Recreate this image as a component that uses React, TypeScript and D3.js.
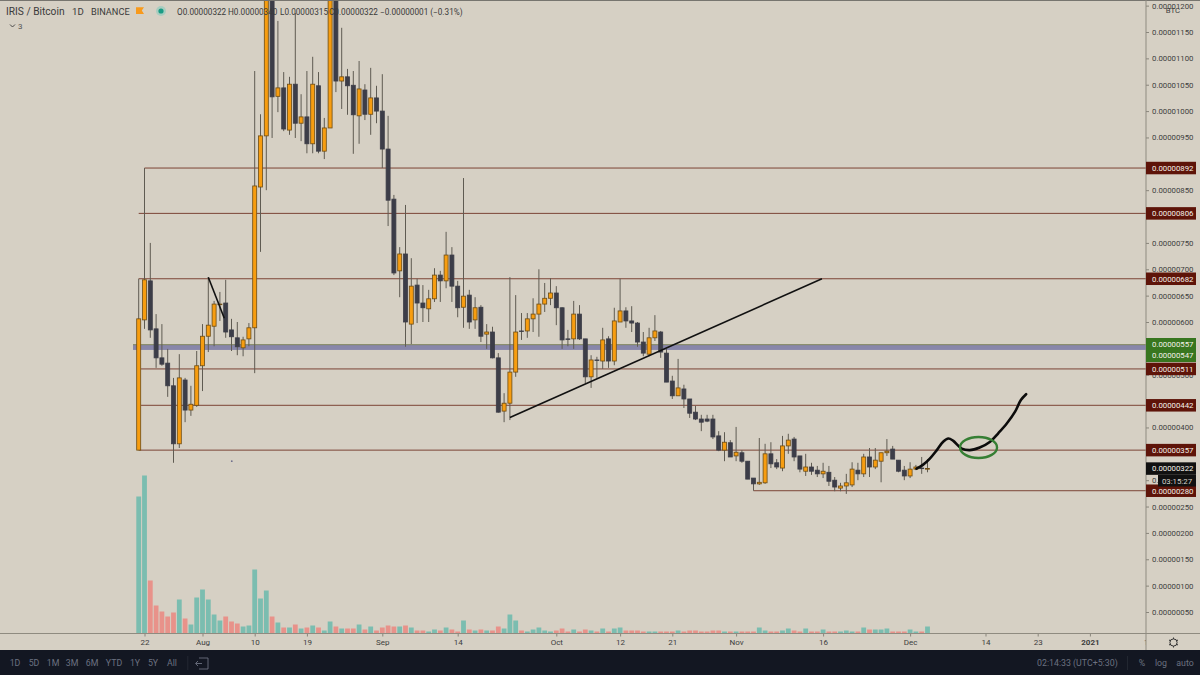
import { useEffect, useRef } from "react";
import {
  axisBottom,
  axisRight,
  curveCatmullRom,
  line,
  scaleLinear,
  scaleUtc,
  select,
  utcDay,
} from "d3";

// all prices in satoshi (1e-8 BTC)
const opens = [357,604,678,587,532,522,479,369,490,433,442,517,573,592,634,636,585,570,551,568,589,856,953,1260,1028,1044,964,1051,977,989,938,1048,924,968,1280,1057,1065,1049,991,1040,994,1025,1000,928,833,697,729,596,670,636,625,644,689,678,727,668,628,651,604,628,577,581,532,431,446,505,583,583,606,615,634,645,655,627,568,568,615,568,496,528,526,568,526,600,621,602,598,562,539,570,581,541,488,460,473,454,429,416,416,416,384,357,371,346,352,336,304,293,295,350,333,323,365,378,346,317,325,319,312,315,300,285,289,291,319,312,344,325,336,352,359,338,319,308,321,323,322];
const closes = [606,680,585,532,520,479,369,494,433,444,517,573,594,634,634,581,572,553,566,589,858,953,1260,1027,1044,966,1051,977,989,938,1051,924,968,1280,1057,1065,1048,993,1042,994,1025,1000,928,831,693,729,600,668,636,627,644,689,678,727,668,627,649,600,627,573,581,532,429,446,505,581,582,606,615,634,645,655,627,566,567,615,568,496,528,527,566,526,602,621,602,598,562,541,570,583,543,486,460,475,454,427,416,410,412,382,357,372,344,353,336,302,293,296,350,331,325,365,376,344,321,325,317,312,317,298,287,289,295,321,312,344,325,338,352,355,340,317,308,321,325,322,322];
const highs = [682,892,750,615,596,549,494,539,494,479,545,596,685,640,657,680,606,600,572,598,1076,994,1290,1300,1171,1074,1065,1186,1032,1076,1103,1074,987,1300,1300,1158,1080,1076,1095,1051,1082,1048,1070,991,841,742,822,721,682,670,661,702,697,771,742,678,873,661,647,632,596,591,541,465,685,651,617,617,645,700,674,683,668,628,585,640,632,568,537,534,589,573,627,682,628,630,600,581,589,613,583,549,498,530,481,454,441,424,424,424,393,391,376,401,357,336,304,380,369,372,340,384,388,382,346,350,333,327,333,327,306,295,312,334,333,350,361,361,352,378,365,338,327,334,329,344,340];
const lows = [357,587,570,513,517,458,333,361,410,422,439,469,543,554,602,570,545,537,535,554,503,733,850,949,998,962,955,949,943,920,920,920,909,968,1036,1004,993,919,938,983,955,977,892,782,689,647,553,558,598,600,600,638,638,664,638,609,589,587,587,562,549,531,428,410,414,496,566,570,581,572,619,632,594,549,554,549,566,484,475,494,511,513,518,600,589,581,553,535,535,564,532,486,454,460,437,418,414,393,410,378,355,336,344,336,333,302,280,291,293,323,321,317,350,336,315,308,310,306,304,289,279,279,274,287,300,306,306,321,296,346,340,315,300,304,319,312,315];
const volumes = [137,158,53,28,22,17,21,34,15,9,36,44,34,19,13,17,12,10,7,8,64,35,43,17,11,6,6,9,5,6,8,6,3,12,7,5,5,5,9,4,7,3,6,8,7,7,8,6,3,3,2,4,3,6,4,2,13,4,3,4,3,3,7,5,19,13,3,2,4,6,3,2,3,5,2,4,2,4,3,2,5,2,5,6,3,3,3,2,2,2,2,2,2,3,2,3,3,2,2,3,3,2,2,2,2,2,2,6,3,2,2,3,5,3,2,5,2,2,4,2,2,2,3,2,2,6,4,4,4,5,2,2,2,4,2,2,7];

const firstDay = new Date(Date.UTC(2020, 6, 21));

const priceTicks = [50,100,150,200,250,300,350,400,450,500,550,600,650,700,750,800,850,900,950,1000,1050,1100,1150,1200];
// these sit fully behind a price tag in the picture, so no label for them
const labelsBehindTags = [350,450,550,800];

const timeTickDates = ["2020-07-22","2020-08-01","2020-08-10","2020-08-19","2020-09-01","2020-09-14","2020-10-01","2020-10-12","2020-10-21","2020-11-01","2020-11-16","2020-12-01","2020-12-14","2020-12-23","2021-01-01","2021-01-11"];
const timeTickLabels = ["22","Aug","10","19","Sep","14","Oct","12","21","Nov","16","Dec","14","23","2021","11"];

// horizontal levels: price and first candle they start from
const levelPrices = [892,806,682,511,442,357,280];
const levelStartDays = [1,0,0,0.4,0.4,0,106];

const rangeLow = 547;
const rangeHigh = 557;

// hand drawn stuff, [day index, price]
const trendLine: [number, number][] = [[64,419],[117.8,682]];
const shortLine: [number, number][] = [[12,685],[14.76,607]];
const forecast: [number, number][] = [[134.1,322],[135.2,329],[136.4,341],[137.6,357],[138.7,373],[139.6,379],[140.4,375],[141.9,360],[143.3,357],[145,362],[146.8,373],[148.2,389],[149.7,408],[151.1,430],[152.1,452],[153,463]];
const circleCenter: [number, number] = [144.8,362];
const strayDot: [number, number] = [16.05,336];

const rangeButtons = ["1D","5D","1M","3M","6M","YTD","1Y","5Y","All"];
const rangeButtonX = [15,34,53,72,92,114,135,153,172];
const legendValues = ["O0.00000322","H0.00000340","L0.00000315","C0.00000322","−0.00000001 (−0.31%)"];
const legendX = [177,228,280,329,380];

const BG = "#d6d0c4";
const FONT = "Roboto, 'Liberation Sans', sans-serif";
const fmt = (p: number) => (p / 1e8).toFixed(8);

export default function App() {
  const svgRef = useRef<SVGSVGElement | null>(null);

  useEffect(() => {
    if (!svgRef.current) return;
    const svg = select(svgRef.current);
    svg.selectAll("*").remove();

    const plotRight = 1146;
    const plotBottom = 633.5;

    const dayOf = (i: number) => new Date(firstDay.getTime() + i * 864e5);
    const x = scaleUtc()
      .domain([firstDay, utcDay.offset(firstDay, 100)])
      .range([138.7, 718.7]);
    const y = scaleLinear().domain([50, 1150]).range([612, 32]);
    const vol = scaleLinear().domain([0, 158]).range([plotBottom, plotBottom - 158]);
    const px = (d: [number, number]) => x(dayOf(d[0]));
    const py = (d: [number, number]) => y(d[1]);

    svg.append("rect").attr("width", 1200).attr("height", 675).attr("fill", BG);
    svg.append("rect").attr("width", 1200).attr("height", 1).attr("fill", "#77756f");

    const defs = svg.append("defs");
    defs
      .append("clipPath")
      .attr("id", "plot")
      .append("rect")
      .attr("x", 0)
      .attr("y", 1)
      .attr("width", plotRight)
      .attr("height", plotBottom);
    defs
      .append("clipPath")
      .attr("id", "timeclip")
      .append("rect")
      .attr("x", 0)
      .attr("y", -1)
      .attr("width", plotRight)
      .attr("height", 20);
    const plot = svg.append("g").attr("clip-path", "url(#plot)");

    const days = opens.map((_, i) => i);
    const isUp = (i: number) => closes[i] >= opens[i];

    // volume
    plot
      .append("g")
      .selectAll("rect")
      .data(days)
      .join("rect")
      .attr("x", (i) => x(dayOf(i)) - 2.4)
      .attr("y", (i) => vol(volumes[i]))
      .attr("width", 4.8)
      .attr("height", (i) => plotBottom - vol(volumes[i]))
      .attr("fill", (i) => (isUp(i) ? "#7bbdb0" : "#e8928a"));

    // levels
    plot
      .append("rect")
      .attr("x", 133)
      .attr("y", y(rangeHigh))
      .attr("width", plotRight - 133)
      .attr("height", y(rangeLow) - y(rangeHigh))
      .attr("fill", "#8886aa");
    plot
      .append("line")
      .attr("x1", 133)
      .attr("x2", plotRight)
      .attr("y1", y(rangeHigh))
      .attr("y2", y(rangeHigh))
      .attr("stroke", "#80865f")
      .attr("stroke-width", 1);
    plot
      .append("g")
      .selectAll("line")
      .data(levelPrices)
      .join("line")
      .attr("x1", (_, i) => x(dayOf(levelStartDays[i])))
      .attr("x2", plotRight)
      .attr("y1", (p) => y(p))
      .attr("y2", (p) => y(p))
      .attr("stroke", "#7c4436")
      .attr("stroke-width", 1);

    // candles
    const candles = plot
      .append("g")
      .selectAll("g")
      .data(days)
      .join("g")
      .attr("transform", (i) => `translate(${x(dayOf(i))},0)`);
    candles
      .append("line")
      .attr("y1", (i) => y(highs[i]))
      .attr("y2", (i) => y(lows[i]))
      .attr("stroke", "#5f5b52")
      .attr("stroke-width", 1);
    candles
      .append("rect")
      .attr("x", -2)
      .attr("width", 4)
      .attr("y", (i) => y(Math.max(opens[i], closes[i])))
      .attr("height", (i) => Math.max(Math.abs(y(opens[i]) - y(closes[i])), 0.6))
      .attr("fill", (i) => (isUp(i) ? "#f79d10" : "#3c3d48"))
      .attr("stroke", (i) => (isUp(i) ? "#6d4c14" : "#3c3d48"))
      .attr("stroke-width", 0.8);

    // drawings
    const drawn = line<[number, number]>().x(px).y(py);
    plot
      .append("path")
      .attr("d", drawn(trendLine))
      .attr("fill", "none")
      .attr("stroke", "#111")
      .attr("stroke-width", 1.6);
    plot
      .append("path")
      .attr("d", drawn(shortLine))
      .attr("fill", "none")
      .attr("stroke", "#111")
      .attr("stroke-width", 1.6);
    plot
      .append("path")
      .attr("d", drawn.curve(curveCatmullRom)(forecast))
      .attr("fill", "none")
      .attr("stroke", "#0c0c0c")
      .attr("stroke-width", 2.6)
      .attr("stroke-linecap", "round");
    plot
      .append("ellipse")
      .attr("cx", px(circleCenter))
      .attr("cy", py(circleCenter))
      .attr("rx", 18.5)
      .attr("ry", 10.5)
      .attr("fill", "none")
      .attr("stroke", "#367f34")
      .attr("stroke-width", 2.4);
    plot
      .append("circle")
      .attr("cx", px(strayDot))
      .attr("cy", py(strayDot))
      .attr("r", 0.9)
      .attr("fill", "#6f6f8c");

    // time axis
    const tickDates = timeTickDates.map((d) => new Date(d + "T00:00:00Z"));
    const xAxis = svg
      .append("g")
      .attr("clip-path", "url(#timeclip)")
      .attr("transform", `translate(0,${plotBottom})`)
      .call(
        axisBottom(x)
          .tickValues(tickDates)
          .tickSize(3)
          .tickPadding(3)
          .tickFormat((_, i) => timeTickLabels[i]),
      );
    xAxis.select(".domain").remove();
    xAxis.selectAll("line").attr("stroke", "#8a867c");
    xAxis
      .selectAll("text")
      .attr("fill", "#3d3d3d")
      .attr("font-family", FONT)
      .attr("font-size", 8)
      .attr("font-weight", (_, i) => (timeTickLabels[i] === "2021" ? 700 : 400));

    svg
      .append("line")
      .attr("x1", 0)
      .attr("x2", 1200)
      .attr("y1", plotBottom)
      .attr("y2", plotBottom)
      .attr("stroke", "#8f8b80");
    svg
      .append("line")
      .attr("x1", plotRight)
      .attr("x2", plotRight)
      .attr("y1", 0)
      .attr("y2", 650)
      .attr("stroke", "#8f8b80");

    // price axis
    const yAxis = svg
      .append("g")
      .attr("transform", `translate(${plotRight},0)`)
      .call(
        axisRight(y)
          .tickValues(priceTicks)
          .tickSize(3)
          .tickPadding(3)
          .tickFormat((p) => (labelsBehindTags.includes(+p) ? "" : fmt(+p))),
      );
    yAxis.select(".domain").remove();
    yAxis.selectAll("line").attr("stroke", "#8a867c");
    yAxis
      .selectAll("text")
      .attr("fill", "#3d3d3d")
      .attr("font-family", FONT)
      .attr("font-size", 7.8);

    svg
      .append("text")
      .attr("x", 1173)
      .attr("y", 13)
      .attr("text-anchor", "middle")
      .attr("fill", "#3d3d3d")
      .attr("font-family", FONT)
      .attr("font-size", 7.8)
      .text("BTC");

    // price tags
    const tag = (price: number, fill: string, dy = 0, h = 12.5) => {
      const cy = y(price) + dy;
      svg
        .append("rect")
        .attr("x", plotRight)
        .attr("y", cy - h / 2)
        .attr("width", 50)
        .attr("height", h)
        .attr("fill", fill);
      svg
        .append("text")
        .attr("x", plotRight + 6)
        .attr("y", cy + 2.8)
        .attr("fill", "#f4f1ea")
        .attr("font-family", FONT)
        .attr("font-size", 7.8)
        .text(fmt(price));
    };
    levelPrices.forEach((p) => tag(p, "#5e1409"));
    svg
      .append("rect")
      .attr("x", plotRight)
      .attr("y", 338)
      .attr("width", 50)
      .attr("height", 24)
      .attr("fill", "#38761f");
    tag(rangeHigh, "#38761f");
    tag(rangeLow, "#38761f", 5);
    tag(closes[closes.length - 1], "#111111");
    svg
      .append("rect")
      .attr("x", 1158)
      .attr("y", 475)
      .attr("width", 38)
      .attr("height", 11.5)
      .attr("fill", "#111111");
    svg
      .append("text")
      .attr("x", 1177)
      .attr("y", 483.6)
      .attr("text-anchor", "middle")
      .attr("fill", "#d8d4cc")
      .attr("font-family", FONT)
      .attr("font-size", 7.8)
      .text("03:15:27");

    // gear
    const gear = svg.append("g").attr("transform", "translate(1173.5,642.5)");
    gear.append("circle").attr("r", 3.6).attr("fill", "none").attr("stroke", "#333").attr("stroke-width", 1);
    gear
      .selectAll("line")
      .data([0, 60, 120, 180, 240, 300])
      .join("line")
      .attr("y1", -3.6)
      .attr("y2", -5)
      .attr("transform", (a) => `rotate(${a})`)
      .attr("stroke", "#333")
      .attr("stroke-width", 1);

    // legend
    const header = svg.append("g").attr("font-family", FONT);
    const title = [
      { text: "IRIS / Bitcoin", at: 6, size: 10.2 },
      { text: "1D", at: 72, size: 9.6 },
      { text: "BINANCE", at: 91, size: 9.2 },
    ];
    header
      .selectAll("text.title")
      .data(title)
      .join("text")
      .attr("class", "title")
      .attr("x", (d) => d.at)
      .attr("y", 14.5)
      .attr("fill", "#3a3a3a")
      .attr("font-size", (d) => d.size)
      .text((d) => d.text);
    header
      .selectAll("text.values")
      .data(legendValues)
      .join("text")
      .attr("class", "values")
      .attr("x", (_, i) => legendX[i])
      .attr("y", 14.5)
      .attr("fill", "#3a3a3a")
      .attr("font-size", 8.2)
      .text((d) => d);
    header.append("path").attr("d", "M136,7.2H144L141.8,10.6L144,14H136Z").attr("fill", "#f89a1c");
    header.append("circle").attr("cx", 161).attr("cy", 11).attr("r", 5).attr("fill", "#a9cdc0");
    header.append("circle").attr("cx", 161).attr("cy", 11).attr("r", 2.6).attr("fill", "#1b9c85");
    header
      .append("path")
      .attr("d", "M10,24.5L12.5,27L15,24.5")
      .attr("fill", "none")
      .attr("stroke", "#3a3a3a")
      .attr("stroke-width", 0.9);
    header
      .append("text")
      .attr("x", 18)
      .attr("y", 29)
      .attr("fill", "#555")
      .attr("font-size", 8)
      .text("3");

    // bottom toolbar
    svg
      .append("rect")
      .attr("y", 650)
      .attr("width", 1200)
      .attr("height", 25)
      .attr("fill", "#131722");
    const bar = svg.append("g").attr("font-family", FONT).attr("fill", "#6b7180").attr("font-size", 8.8);
    bar
      .selectAll("text.range")
      .data(rangeButtons)
      .join("text")
      .attr("class", "range")
      .attr("x", (_, i) => rangeButtonX[i])
      .attr("y", 666)
      .attr("text-anchor", "middle")
      .text((d) => d);
    bar.append("rect").attr("x", 187.5).attr("y", 656).attr("width", 0.7).attr("height", 14).attr("fill", "#2a2e39");
    bar.append("rect").attr("x", 1127).attr("y", 656).attr("width", 0.7).attr("height", 14).attr("fill", "#2a2e39");
    bar
      .append("path")
      .attr("d", "M199,658H208V669H199M202,663.5H196M198,661L195.5,663.5L198,666")
      .attr("fill", "none")
      .attr("stroke", "#6b7180")
      .attr("stroke-width", 0.9);
    bar.append("text").attr("x", 1037).attr("y", 666).text("02:14:33 (UTC+5:30)");
    bar.append("text").attr("x", 1142).attr("y", 666).attr("text-anchor", "middle").text("%");
    bar.append("text").attr("x", 1161).attr("y", 666).attr("text-anchor", "middle").text("log");
    bar.append("text").attr("x", 1185).attr("y", 666).attr("text-anchor", "middle").text("auto");
  }, []);

  return (
    <div>
      <style>{"body{margin:0;background:#d6d0c4}"}</style>
      <svg ref={svgRef} width={1200} height={675} style={{ display: "block" }} role="img" aria-label="IRIS / Bitcoin daily chart" />
    </div>
  );
}
